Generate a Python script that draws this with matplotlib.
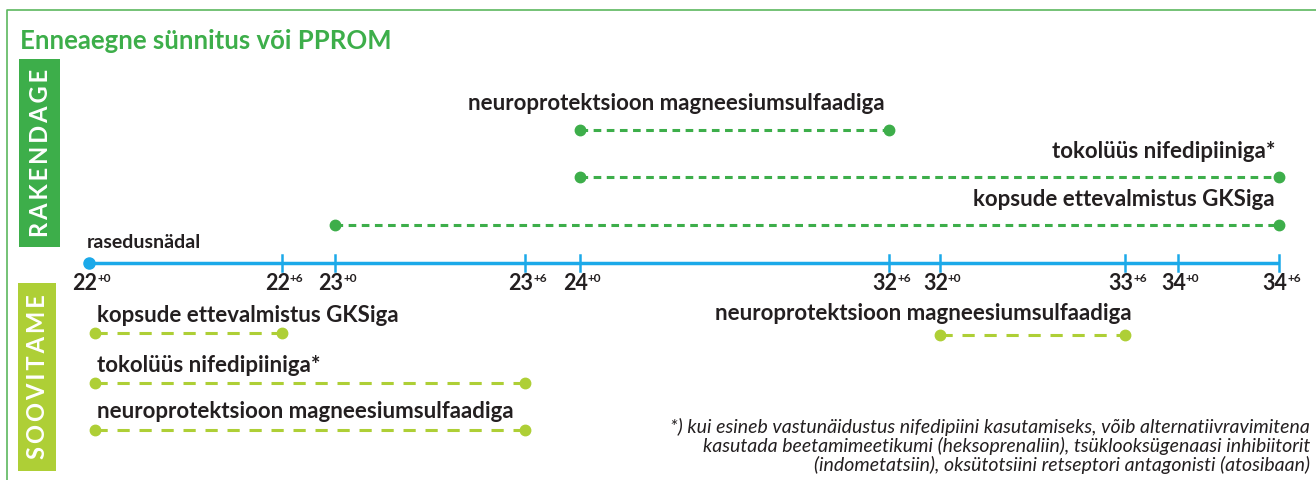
import numpy as np
import matplotlib
matplotlib.use("Agg")
import matplotlib.pyplot as plt

# axis ticks (week, day) and their place on the broken time axis
tick_weeks = ["22", "22", "23", "23", "24", "32", "32", "33", "34", "34"]
tick_days = ["+0", "+6", "+0", "+6", "+0", "+6", "+0", "+6", "+0", "+6"]
tick_pos = [89, 282, 335, 525, 580, 889, 940, 1125, 1178, 1279]

# RAKENDAGE (upper) bars: label, start tick index, end tick index
upper_labels = ["neuroprotektsioon magneesiumsulfaadiga",
                "tokolüüs nifedipiiniga*",
                "kopsude ettevalmistus GKSiga"]
upper_start = [4, 4, 2]
upper_end = [5, 9, 9]

# SOOVITAME (lower) bars
lower_labels = ["kopsude ettevalmistus GKSiga",
                "tokolüüs nifedipiiniga*",
                "neuroprotektsioon magneesiumsulfaadiga",
                "neuroprotektsioon magneesiumsulfaadiga"]
lower_start = [0, 0, 0, 6]
lower_end = [1, 3, 3, 7]

title = "Enneaegne sünnitus või PPROM"
footnote = ("*) kui esineb vastunäidustus nifedipiini kasutamiseks, võib alternatiivravimitena\n"
            "kasutada beetamimeetikumi (heksoprenaliin), tsüklooksügenaasi inhibiitorit\n"
            "(indometatsiin), oksütotsiini retseptori antagonisti (atosibaan)")

GREEN = "#3dae4a"
LIME = "#aecf36"
BLUE = "#1ba9e9"
DARK = "#231f20"
FONT = ["Lato", "DejaVu Sans"]

plt.rcParams['font.family'] = FONT

fig = plt.figure(figsize=(13.16, 4.8), dpi=100)
ax = fig.add_axes([0, 0, 1, 1])
ax.set_xlim(0, 1316)
ax.set_ylim(480, 0)
ax.axis("off")

# frame
ax.plot([7, 7, 1316], [480, 10, 10], color="#5cb85f", lw=1.2)

ax.text(20, 41, title, color=GREEN, fontsize=18.5, fontweight="bold", va="center")

# side boxes with vertical, letter-spaced text
def side_box(x0, x1, y0, y1, color, word):
    ax.add_patch(plt.Rectangle((x0, y0), x1 - x0, y1 - y0, color=color, lw=0))
    spaced = "\u2009".join(word)
    ax.text((x0 + x1) / 2 + 1, (y0 + y1) / 2, spaced, color="white", fontsize=17,
            fontweight="bold", rotation=90, ha="center", va="center")

side_box(19, 60, 59, 247, GREEN, "RAKENDAGE")
side_box(18, 56, 283, 471, LIME, "SOOVITAME")

# time axis
axis_y = 263
ax.plot([tick_pos[0], tick_pos[-1]], [axis_y, axis_y], color=BLUE, lw=2.5, solid_capstyle="butt")
ax.plot(tick_pos[0], axis_y, "o", color=BLUE, ms=8)
for p in tick_pos[1:]:
    ax.plot([p, p], [axis_y - 8, axis_y + 8], color=BLUE, lw=1.8)
for p, w, d in zip(tick_pos, tick_weeks, tick_days):
    ax.text(p + 8, 284, w, color=DARK, fontsize=15.5, fontweight="bold", ha="right", va="center")
    ax.text(p + 8, 279, d, color=DARK, fontsize=8.5, fontweight="bold", ha="left", va="center")
ax.text(87, 242, "rasedusnädal", color=DARK, fontsize=14, fontweight="bold", va="center")

# upper bars, labels right aligned to bar end
upper_y = [130, 177, 225]
for lab, s, e, y in zip(upper_labels, upper_start, upper_end, upper_y):
    x0, x1 = tick_pos[s], tick_pos[e]
    ax.plot([x0, x1], [y, y], color=GREEN, lw=2.2, dashes=(2.5, 1.8))
    ax.plot([x0, x1], [y, y], "o", color=GREEN, ms=7.5)
    ax.text(x1 - 4, y - 26, lab, color=DARK, fontsize=16, fontweight="bold",
            ha="right", va="center")

# lower bars
lower_y = [333, 383, 430, 335]
for lab, s, e, y in zip(lower_labels, lower_start, lower_end, lower_y):
    x0, x1 = tick_pos[s], tick_pos[e]
    if s == 0:
        x0 += 6
    ax.plot([x0, x1], [y, y], color=LIME, lw=2.2, dashes=(4, 3.2))
    ax.plot([x0, x1], [y, y], "o", color=LIME, ms=7.5)
    if s == 0:
        ax.text(x0 + 2, y - 18, lab, color=DARK, fontsize=16, fontweight="bold",
                ha="left", va="center")
    else:
        ax.text(x1 + 7, y - 22, lab, color=DARK, fontsize=16, fontweight="bold",
                ha="right", va="center")

ax.text(1310, 446, footnote, color=DARK, fontsize=14, fontstyle="italic",
        ha="right", va="center", linespacing=1.08)

fig.savefig("out.png", dpi=100)
